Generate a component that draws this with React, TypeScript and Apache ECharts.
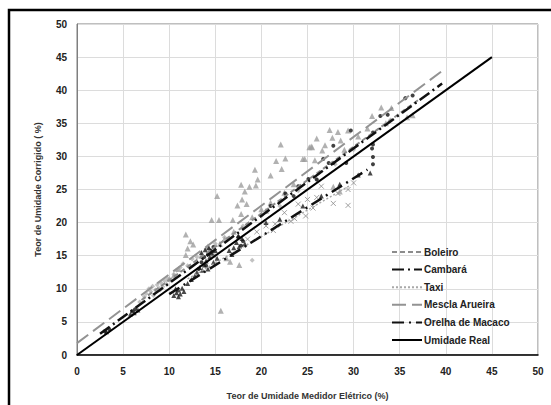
import React, { useEffect, useRef } from "react";
import * as echarts from "echarts";

const lineNames = ["Boleiro", "Cambará", "Taxi", "Mescla Arueira", "Orelha de Macaco", "Umidade Real"];

// regression / reference lines (endpoints)
const boleiroLine = [[7, 8.3], [37, 38.5]];
const cambaraLine = [[2.5, 3.2], [39.6, 41.0]];
const taxiLine = [[12, 11.5], [29.5, 25.5]];
const mesclaLine = [[0, 1.8], [39.6, 42.9]];
const orelhaLine = [[10, 9.2], [31.5, 28.0]];
const realLine = [[0, 0], [45, 45]];

// scatter points
const mesclaPts = [
  [22.1, 31.8], [21.6, 29.3], [22.6, 29.7], [22.2, 28.1], [19.3, 28.0], [21.0, 27.1], [19.6, 26.5],
  [17.8, 25.7], [18.7, 25.4], [19.4, 25.6], [18.2, 24.7], [15.2, 24.0], [17.4, 22.6], [18.4, 22.8],
  [17.8, 21.3], [14.6, 20.4], [15.4, 20.4], [16.9, 20.4], [17.9, 23.5], [25.2, 31.4], [28.3, 33.7],
  [26.0, 32.7], [27.7, 32.8], [28.6, 32.4], [25.4, 31.5], [26.6, 30.9], [24.7, 29.6], [29.4, 33.9],
  [33.0, 37.4], [34.1, 37.3], [32.0, 36.1], [35.8, 35.9], [36.4, 36.2], [27.4, 34.0], [25.5, 31.4],
  [26.9, 31.7], [24.5, 29.6], [25.8, 29.4], [11.8, 18.2], [12.3, 17.2], [12.6, 16.7], [12.0, 16.1],
  [11.8, 15.1], [15.6, 6.7], [16.6, 14.1], [17.6, 13.6], [16.2, 14.6], [22.5, 24.5], [21.0, 23.0],
  [23.5, 25.8], [20.0, 22.0], [13.5, 15.0], [14.2, 16.4], [14.8, 15.2], [15.5, 16.8], [16.0, 17.5],
  [17.0, 18.6], [19.0, 20.8], [20.5, 21.8], [30.5, 33.0], [31.5, 34.2], [33.5, 35.0], [29.0, 31.0],
  [10.5, 12.0], [11.0, 13.0], [10.0, 11.5], [27.8, 25.4], [28.5, 24.7]
];
const boleiroPts = [
  [7.5, 9.3], [7.8, 10.0], [8.0, 9.6], [8.2, 10.4], [8.5, 9.8], [8.7, 10.6], [8.9, 10.1], [9.1, 10.9],
  [9.3, 10.3], [9.5, 11.2], [9.7, 10.7], [8.3, 9.0], [9.0, 9.8], [9.8, 11.5], [10.2, 11.3], [10.5, 12.2],
  [10.8, 12.8], [11.2, 13.2], [11.5, 13.8], [12.0, 13.5], [7.3, 8.8], [6.8, 8.0], [19.0, 14.3],
  [12.5, 14.5], [13.0, 14.8], [14.0, 16.0], [15.0, 16.8], [16.0, 17.8], [18.0, 19.5], [20.0, 21.0],
  [22.0, 22.5], [24.0, 24.8], [26.0, 26.5], [28.0, 28.8], [30.0, 31.0], [34.0, 35.5]
];
const cambaraPts = [
  [36.4, 39.2], [35.6, 38.8], [33.7, 36.3], [32.9, 36.1], [29.7, 33.9], [32.1, 33.6], [27.8, 31.6],
  [27.3, 29.0], [27.8, 29.0], [29.2, 29.0], [32.1, 29.9], [32.1, 31.8], [26.7, 29.6], [25.1, 26.6],
  [26.0, 26.5], [22.6, 24.4], [32.0, 31.2], [32.1, 28.8], [13.5, 14.0], [13.8, 14.8], [14.2, 15.2],
  [14.5, 15.8], [14.0, 13.5], [13.2, 13.0], [14.8, 16.3], [17.5, 17.8], [18.0, 17.2], [17.8, 16.5],
  [3.0, 3.6], [3.5, 3.9], [6.0, 6.6], [6.3, 6.9], [21.0, 22.5], [23.5, 24.0], [24.0, 25.5]
];
const orelhaPts = [
  [10.5, 9.0], [10.8, 9.4], [11.0, 9.8], [11.2, 9.2], [11.4, 10.1], [10.7, 10.0], [11.6, 9.6], [11.0, 8.8],
  [12.0, 10.8], [12.4, 11.4], [12.8, 12.0], [13.0, 12.5], [13.3, 13.2], [13.6, 12.8], [13.8, 13.6],
  [14.0, 14.2], [14.2, 13.0], [14.4, 14.8], [14.6, 15.4], [14.8, 14.0], [15.0, 15.8], [15.2, 14.6],
  [13.5, 15.5], [13.9, 15.9], [14.3, 16.2], [16.5, 15.8], [17.0, 16.2], [17.3, 17.0], [17.6, 16.4],
  [17.9, 17.6], [18.2, 16.8], [17.5, 18.0], [16.8, 15.2], [5.8, 6.2], [6.2, 6.4], [6.6, 6.8], [3.2, 3.5],
  [20.5, 20.0], [22.0, 20.5], [24.5, 22.5], [26.5, 24.0], [28.5, 25.8], [30.5, 27.2], [31.8, 27.5]
];
const taxiPts = [
  [25.6, 22.2], [27.8, 22.9], [29.4, 22.6], [23.6, 20.6], [24.8, 21.0], [23.2, 20.2], [21.5, 19.8],
  [21.3, 18.8], [29.4, 25.0], [28.3, 24.4], [22.5, 21.5], [24.0, 22.8], [26.0, 23.8], [20.5, 19.5],
  [19.5, 18.6], [18.5, 17.5], [26.5, 25.5], [30.0, 26.0], [25.0, 23.5]
];

const FONT = "'Liberation Sans', Arial, sans-serif";

export default function App() {
  const ref = useRef<HTMLDivElement>(null);
  useEffect(() => {
    if (!ref.current) return;
    const chart = echarts.init(ref.current, undefined, { renderer: "svg" });
    const scatter = (name: string, data: number[][], symbol: string, size: number, color: string, stroke?: boolean) => ({
      name,
      type: "scatter",
      data,
      symbol,
      symbolSize: size,
      z: 2,
      itemStyle: stroke
        ? { color: "rgba(0,0,0,0)", borderColor: color, borderWidth: 1 }
        : { color },
      silent: true,
    });
    const line = (name: string, data: number[][], color: string, type: any, width: number) => ({
      name,
      type: "line",
      data,
      symbol: "none",
      z: 5,
      lineStyle: { color, type, width },
      itemStyle: { color },
    });
    const axisCommon = {
      type: "value",
      min: 0,
      max: 50,
      interval: 5,
      axisTick: { show: false },
      splitLine: { show: true, lineStyle: { color: "#dcdcdc", width: 1 } },
      axisLabel: { color: "#222", fontSize: 10, fontWeight: "bold", fontFamily: FONT },
      nameTextStyle: { color: "#333", fontSize: 9, fontWeight: "bold", fontFamily: FONT },
    };
    chart.setOption({
      animation: false,
      backgroundColor: "#fff",
      grid: { left: 77, top: 24, right: 13, bottom: 43, show: true, borderColor: "#7f7f7f", borderWidth: 1 },
      xAxis: {
        ...axisCommon,
        name: "Teor de Umidade Medidor Elétrico (%)",
        nameLocation: "middle",
        nameGap: 36,
        axisLine: { show: true, lineStyle: { color: "#000", width: 1.5 } },
        axisLabel: { ...axisCommon.axisLabel, margin: 11 },
      },
      yAxis: {
        ...axisCommon,
        name: "Teor de Umidade Corrigido ( %)",
        nameLocation: "middle",
        nameGap: 35,
        axisLine: { show: true, lineStyle: { color: "#7f7f7f", width: 1 } },
        axisLabel: { ...axisCommon.axisLabel, margin: 10 },
      },
      legend: {
        data: lineNames,
        orient: "vertical",
        left: 391,
        top: 247,
        itemWidth: 30,
        itemHeight: 10,
        itemGap: 7.6,
        padding: 0,
        itemStyle: { opacity: 0 },
        textStyle: { color: "#222", fontSize: 10, fontWeight: "bold", fontFamily: FONT, padding: [0, 0, 0, -3] },
      },
      graphic: [
        {
          type: "rect",
          shape: { x: 9, y: 10, width: 560, height: 420 },
          style: { fill: "none", stroke: "#000", lineWidth: 2.5 },
          silent: true,
        },
      ],
      series: [
        scatter("Boleiro pts", boleiroPts, "diamond", 5, "#b3b3b3"),
        scatter("Mescla Arueira pts", mesclaPts, "triangle", 6, "#9e9e9e"),
        scatter("Taxi pts", taxiPts, "path://M0,0L10,10M10,0L0,10", 5, "#8a8a8a", true),
        scatter("Orelha de Macaco pts", orelhaPts, "triangle", 5, "#1a1a1a"),
        scatter("Cambará pts", cambaraPts, "circle", 4, "#111"),
        line("Boleiro", boleiroLine, "#8c8c8c", [5, 3], 2),
        line("Cambará", cambaraLine, "#111", [12, 4, 2, 4], 2.5),
        line("Taxi", taxiLine, "#a8a8a8", [2, 2], 1.5),
        line("Mescla Arueira", mesclaLine, "#939393", [14, 6], 2),
        line("Orelha de Macaco", orelhaLine, "#111", [12, 5, 2, 5], 2.5),
        line("Umidade Real", realLine, "#000", "solid", 2),
      ],
    });
    return () => chart.dispose();
  }, []);
  return <div ref={ref} style={{ position: "fixed", left: 0, top: 0, width: 551, height: 405 }} />;
}
